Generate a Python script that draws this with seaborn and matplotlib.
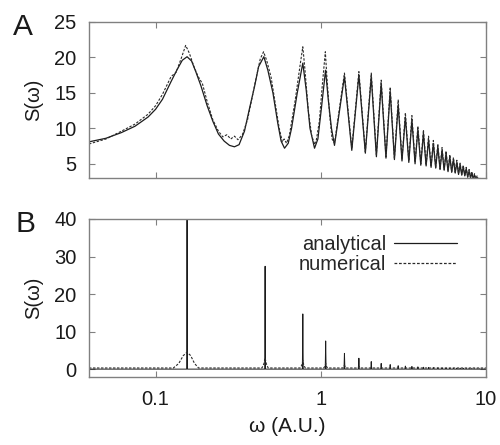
import numpy as np
import pandas as pd
import matplotlib
matplotlib.use("Agg")
import matplotlib.pyplot as plt
from matplotlib.ticker import NullLocator, FixedLocator
import seaborn as sns

# ---------------- Panel A: low-frequency part, read point by point ----------------
a_low_w = [0.0395, 0.05, 0.062, 0.075, 0.09, 0.10, 0.11, 0.124, 0.135, 0.145, 0.155,
           0.165, 0.175, 0.188, 0.205, 0.222, 0.24, 0.26, 0.28, 0.30, 0.32, 0.345,
           0.37, 0.397, 0.42, 0.452, 0.478, 0.513, 0.549, 0.575, 0.603, 0.635, 0.665,
           0.72, 0.778, 0.815, 0.86, 0.916, 0.96, 1.01, 1.068, 1.11, 1.16, 1.21]
a_low_ana = [8.1, 8.6, 9.4, 10.3, 11.6, 12.7, 14.1, 16.6, 18.3, 19.6, 20.1,
             19.5, 18.0, 16.0, 13.2, 11.0, 9.2, 8.2, 7.6, 7.4, 7.7, 9.6,
             12.8, 15.9, 18.7, 20.1, 18.2, 15.0, 10.7, 8.2, 7.2, 7.9, 10.0,
             15.0, 19.2, 15.5, 10.0, 7.2, 8.5, 13.0, 18.2, 14.0, 10.0, 7.6]

a_low_w_num = [0.0395, 0.05, 0.062, 0.075, 0.09, 0.10, 0.11, 0.124, 0.133, 0.143, 0.152,
               0.160, 0.170, 0.180, 0.192, 0.205, 0.222, 0.24, 0.255, 0.27, 0.285, 0.30,
               0.315, 0.335, 0.36, 0.40, 0.43, 0.45, 0.47, 0.50, 0.53, 0.56, 0.585,
               0.60, 0.62, 0.645, 0.70, 0.75, 0.778, 0.80, 0.84, 0.88, 0.90, 0.916,
               0.94, 0.98, 1.02, 1.065, 1.09, 1.13, 1.17, 1.21]
a_low_num = [7.8, 8.5, 9.6, 10.6, 12.0, 13.2, 14.8, 17.3, 17.9, 19.9, 21.7,
             20.6, 18.8, 17.4, 16.3, 13.8, 11.2, 9.6, 8.8, 9.1, 8.5, 8.9,
             8.4, 9.1, 11.2, 16.4, 19.8, 20.8, 19.6, 17.2, 13.5, 10.0, 8.1,
             8.5, 7.9, 9.0, 14.0, 19.0, 21.5, 18.5, 12.5, 9.0, 8.3, 7.7,
             8.4, 11.0, 16.0, 20.8, 17.0, 12.0, 8.5, 7.9]

# ---------------- Panel A: high-frequency oscillations (peaks and troughs) ----------------
peak_w = [1.39, 1.70, 2.02, 2.32, 2.63, 2.94, 3.25, 3.56, 3.87, 4.18, 4.49, 4.80, 5.11, 5.42,
          5.73, 6.04, 6.35, 6.66, 6.97, 7.28, 7.59, 7.90, 8.21, 8.52, 8.83, 9.14, 9.45, 9.76]
trough_w = [1.54, 1.86, 2.17, 2.48, 2.79, 3.10, 3.41, 3.72, 4.03, 4.34, 4.65, 4.96, 5.27, 5.58,
            5.89, 6.20, 6.51, 6.82, 7.13, 7.44, 7.75, 8.06, 8.37, 8.68, 8.99, 9.30, 9.61, 9.92]
peak_ana = [17.3, 17.5, 17.3, 16.3, 15.2, 13.3, 11.6, 11.2, 9.8, 9.3, 8.4, 7.9, 7.4, 6.9,
            6.5, 6.0, 5.6, 5.2, 4.9, 4.6, 4.3, 4.0, 3.7, 3.4, 3.1, 2.9, 2.7, 2.5]
trough_ana = [6.9, 6.5, 6.0, 5.8, 5.6, 5.4, 5.2, 5.0, 4.8, 4.7, 4.5, 4.4, 4.2, 4.1,
              3.9, 3.8, 3.7, 3.5, 3.4, 3.3, 3.1, 3.0, 2.9, 2.8, 2.7, 2.6, 2.5, 2.4]
peak_num = [17.8, 18.0, 17.8, 16.8, 15.8, 14.0, 12.2, 11.8, 10.3, 9.8, 8.9, 8.3, 7.8, 7.3,
            6.8, 6.3, 5.9, 5.5, 5.1, 4.8, 4.5, 4.2, 3.9, 3.6, 3.3, 3.0, 2.8, 2.6]
trough_num = [7.2, 6.7, 6.3, 6.0, 5.8, 5.6, 5.4, 5.2, 5.0, 4.8, 4.6, 4.5, 4.3, 4.2,
              4.0, 3.9, 3.8, 3.6, 3.5, 3.4, 3.2, 3.1, 3.0, 2.9, 2.8, 2.7, 2.6, 2.5]

# ---------------- Panel B ----------------
b_peak_w = [0.155, 0.46, 0.778, 1.07] + peak_w
b_peak_ana = [48, 27.4, 14.7, 7.5, 4.2, 2.9, 2.0, 1.5, 1.2, 0.9, 0.8, 0.7, 0.6, 0.5, 0.45,
              0.4, 0.35, 0.3, 0.3, 0.25, 0.25, 0.2, 0.2, 0.2, 0.15, 0.15, 0.15, 0.1, 0.1,
              0.1, 0.1, 0.1]
b_num_w = [0.0395, 0.128, 0.138, 0.147, 0.155, 0.163, 0.172, 0.182, 0.44, 0.452, 0.46, 0.468,
           0.48, 0.75, 0.768, 0.778, 0.788, 0.805, 1.04, 1.062, 1.07, 1.078, 1.10, 1.36, 1.39,
           1.42, 1.67, 1.70, 1.73, 10.0]
b_num = [0.3, 0.3, 1.5, 3.6, 4.5, 3.6, 1.5, 0.3, 0.3, 1.4, 3.0, 1.4,
         0.3, 0.3, 1.1, 2.3, 1.1, 0.3, 0.3, 0.8, 1.5, 0.8, 0.3, 0.3, 1.0,
         0.3, 0.3, 0.7, 0.3, 0.3]


def oscillation(w_low, s_low, s_peak, s_trough):
    w, s = list(w_low), list(s_low)
    for pw, ps, tw, ts in zip(peak_w, s_peak, trough_w, s_trough):
        w += [pw, tw]
        s += [ps, ts]
    return pd.DataFrame({"omega": w, "S": s})


def spikes(pos, height):
    w, s = [0.0395], [0.0]
    for p, h in zip(pos, height):
        w += [p * 0.994, p, p * 1.006]
        s += [0.0, h, 0.0]
    w.append(10.0)
    s.append(0.0)
    return pd.DataFrame({"omega": w, "S": s})


df_a_ana = oscillation(a_low_w, a_low_ana, peak_ana, trough_ana)
df_a_num = oscillation(a_low_w_num, a_low_num, peak_num, trough_num)
df_b_ana = spikes(b_peak_w, b_peak_ana)
df_b_num = pd.DataFrame({"omega": b_num_w, "S": b_num})

sns.set_style("ticks")
plt.rcParams["font.family"] = ["Liberation Sans", "DejaVu Sans"]

fig = plt.figure(figsize=(5.0, 4.45), dpi=100)
ax_a = fig.add_axes([0.178, 0.600, 0.794, 0.3506])
ax_b = fig.add_axes([0.178, 0.1528, 0.794, 0.3551])

ana_kw = dict(color="#1c1c1c", lw=0.9, estimator=None, sort=False)
num_kw = dict(color="#2a2a2a", lw=0.8, estimator=None, sort=False, linestyle=(0, (2.2, 1.4)))

sns.lineplot(data=df_a_ana, x="omega", y="S", ax=ax_a, legend=False, **ana_kw)
sns.lineplot(data=df_a_num, x="omega", y="S", ax=ax_a, legend=False, **num_kw)
sns.lineplot(data=df_b_ana, x="omega", y="S", ax=ax_b, label="analytical",
             **{**ana_kw, "lw": 0.7})
sns.lineplot(data=df_b_num, x="omega", y="S", ax=ax_b, label="numerical", **num_kw)

for ax in (ax_a, ax_b):
    ax.set_xscale("log")
    ax.set_xlim(0.0395, 10)
    ax.xaxis.set_major_locator(FixedLocator([0.1, 1, 10]))
    ax.xaxis.set_minor_locator(NullLocator())
    ax.tick_params(direction="in", top=True, right=True, length=4.5, width=0.8,
                   color="#808080", labelsize=14.5, labelcolor="#1a1a1a", pad=9)
    for sp in ax.spines.values():
        sp.set_color("#808080")
        sp.set_linewidth(1.0)
    ax.set_xlabel("")
    ax.set_ylabel("S(ω)", fontsize=14.5, color="#1a1a1a", labelpad=8)

ax_a.set_ylim(3, 25)
ax_a.set_yticks([5, 10, 15, 20, 25])
ax_a.set_xticklabels([])

ax_b.set_ylim(-2.1, 40)
ax_b.set_yticks([0, 10, 20, 30, 40])
ax_b.set_xticklabels(["0.1", "1", "10"])
ax_b.set_xlabel("ω (A.U.)", fontsize=15, color="#1a1a1a", labelpad=6)

leg = ax_b.legend(loc="upper right", bbox_to_anchor=(0.972, 1.013), frameon=False,
                  markerfirst=False, fontsize=14.5, handlelength=3.1, handletextpad=0.4,
                  labelspacing=0.05, borderpad=0.4)
for line in leg.get_lines():
    line.set_linewidth(0.9)

fig.text(13 / 500, 1 - 35 / 445, "A", fontsize=21.5, color="#1a1a1a", va="baseline")
fig.text(15 / 500, 1 - 232 / 445, "B", fontsize=21.5, color="#1a1a1a", va="baseline")

fig.savefig("out.png", dpi=100)
